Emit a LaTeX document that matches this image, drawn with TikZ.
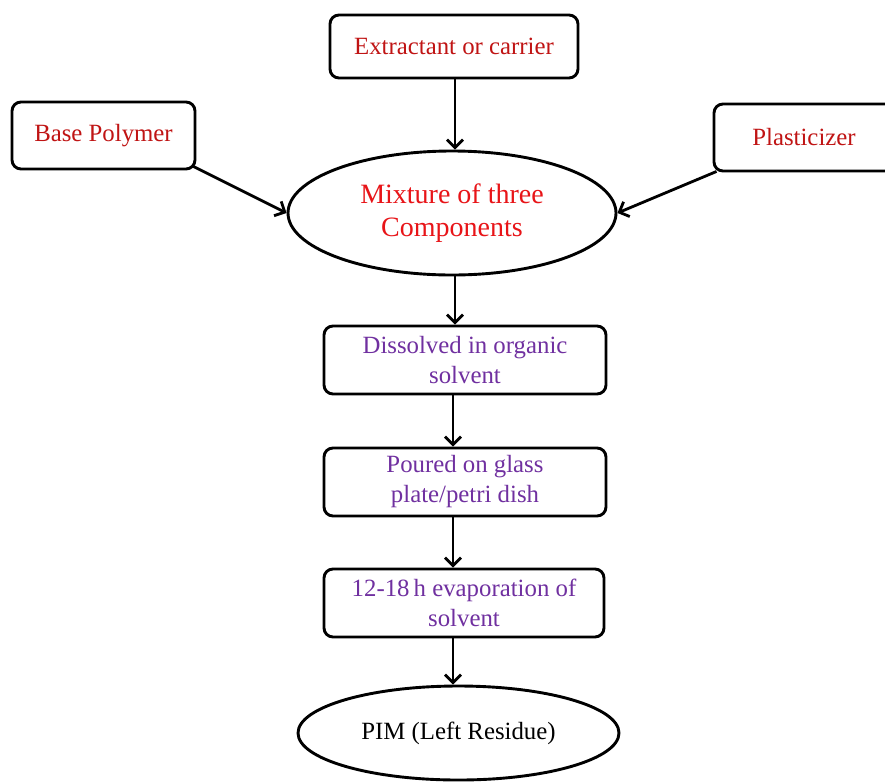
\documentclass[tikz,border=0pt]{standalone}
\usepackage{fontspec}
\setmainfont{Liberation Serif}
\usetikzlibrary{arrows.meta,shapes.geometric}
\definecolor{boxred}{RGB}{192,20,20}
\definecolor{mixred}{RGB}{232,20,24}
\definecolor{steppurple}{RGB}{112,48,160}
\newcommand{\bodysize}{\fontsize{24.8}{30}\selectfont}
\newcommand{\mixsize}{\fontsize{28}{33}\selectfont}
\tikzset{
  x=1pt, y=1pt,
  card/.style={draw=black, line width=2.9pt, rounded corners=9pt, fill=white,
    align=center, inner sep=0pt, font=\bodysize},
  blob/.style={ellipse, draw=black, line width=2.9pt, fill=white,
    align=center, inner sep=0pt, font=\bodysize},
  flow/.style={line width=2.8pt, -{Straight Barb[length=8pt,width=16pt,line width=2.8pt]}},
}
\begin{document}
\begin{tikzpicture}
  \useasboundingbox (0,0) rectangle (885,-782);
  \clip (0,0) rectangle (885,-782);
  \fill[white] (0,0) rectangle (885,-782);

  % ingredients
  \node[card, text=boxred, minimum width=248pt, minimum height=63pt]
    (ext) at (454,-46.5) {Extractant or carrier};
  \node[card, text=boxred, minimum width=183pt, minimum height=67pt]
    (bp) at (103.5,-135.5) {Base Polymer};
  \node[card, text=boxred, minimum width=180pt, minimum height=67pt]
    (pl) at (804,-137.5) {Plasticizer};

  % mixture
  \node[blob, text=mixred, font=\mixsize, minimum width=328pt, minimum height=124pt]
    (mix) at (452,-213) {Mixture of three\\Components};

  % processing steps
  \node[card, text=steppurple, minimum width=282pt, minimum height=68pt]
    (dis) at (465,-360) {Dissolved in organic\\solvent};
  \node[card, text=steppurple, minimum width=282pt, minimum height=68pt]
    (pour) at (465,-482) {Poured on glass\\plate/petri dish};
  \node[card, text=steppurple, minimum width=280pt, minimum height=68pt]
    (evap) at (464,-603) {12-18\,h evaporation of\\solvent};

  % product
  \node[blob, minimum width=321pt, minimum height=94pt]
    (pim) at (458.5,-733) {PIM (Left Residue)};

  % connectors
  \draw[flow] (ext.south -| 455,0) -- (mix.north -| 455,0);
  \draw[flow] ([shift={(-3pt,4pt)}]bp.south east) -- (mix.west);
  \draw[flow] ([shift={(4pt,1pt)}]pl.south west) -- (mix.east);
  \draw[flow] (mix.south -| 455,0) -- (dis.north -| 455,0);
  \draw[flow] (dis.south -| 453,0) -- (pour.north -| 453,0);
  \draw[flow] (pour.south -| 453,0) -- (evap.north -| 453,0);
  \draw[flow] (evap.south -| 453,0) -- (pim.north -| 453,0);
\end{tikzpicture}
\end{document}
